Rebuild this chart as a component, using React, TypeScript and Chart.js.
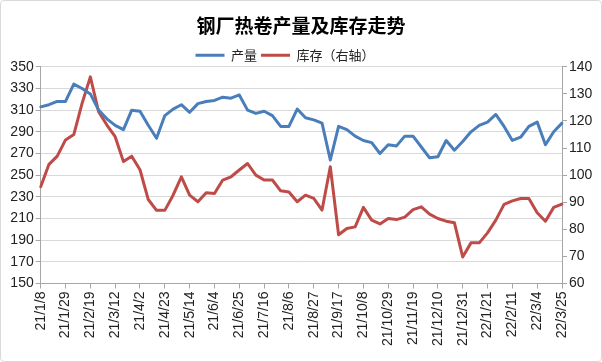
import React, { useEffect, useRef } from "react";
import { Chart, registerables } from "chart.js";

Chart.register(...registerables);

const labels = [
  "21/1/8", "21/1/15", "21/1/22", "21/1/29", "21/2/5", "21/2/12", "21/2/19", "21/2/26",
  "21/3/5", "21/3/12", "21/3/19", "21/3/26", "21/4/2", "21/4/9", "21/4/16", "21/4/23",
  "21/4/30", "21/5/7", "21/5/14", "21/5/21", "21/5/28", "21/6/4", "21/6/11", "21/6/18",
  "21/6/25", "21/7/2", "21/7/9", "21/7/16", "21/7/23", "21/7/30", "21/8/6", "21/8/13",
  "21/8/20", "21/8/27", "21/9/3", "21/9/10", "21/9/17", "21/9/24", "21/10/1", "21/10/8",
  "21/10/15", "21/10/22", "21/10/29", "21/11/5", "21/11/12", "21/11/19", "21/11/26", "21/12/3",
  "21/12/10", "21/12/17", "21/12/24", "21/12/31", "22/1/7", "22/1/14", "22/1/21", "22/1/28",
  "22/2/4", "22/2/11", "22/2/18", "22/2/25", "22/3/4", "22/3/11", "22/3/18", "22/3/25",
];

// 产量 (left axis)
const output = [
  313, 315, 318, 318, 334, 330, 325, 310,
  302, 296, 292, 310, 309, 296, 284, 305,
  311, 315, 308, 316, 318, 319, 322, 321,
  324, 310, 307, 309, 305, 295, 295, 311,
  303, 301, 298, 264, 295, 292, 286, 282,
  280, 270, 278, 277, 286, 286, 276, 266,
  267, 282, 273, 281, 290, 296, 299, 306,
  295, 282, 285, 295, 299, 278, 290, 298,
];

// 库存 (right axis)
const inventory = [
  95.7, 104, 107, 113, 115, 126.5, 136.3, 123.4,
  118.5, 114.2, 105, 107, 102, 91, 87, 87,
  92.6, 99.4, 92.6, 90.2, 93.5, 93.2, 98.2, 99.4,
  101.9, 104.3, 100, 98.2, 98.2, 94.2, 93.8, 90.2,
  92.6, 91.4, 87.1, 103.1, 78, 80.3, 80.9, 88.1,
  83.4, 82, 84, 83.6, 84.5, 87.3, 88.3, 85.6,
  84, 83, 82.4, 69.8, 75, 75, 78.7, 83.4,
  89.2, 90.5, 91.4, 91.4, 86.1, 83, 88.1, 89.3,
];

const seriesNames = ["产量", "库存（右轴）"];
const titleText = "钢厂热卷产量及库存走势";

const BLUE = "#4A7EBB";
const RED = "#BE4B48";
const TICK_FONT = { family: "'Liberation Sans', Arial, sans-serif", size: 14 };

const legendTweak = {
  id: "legendTweak",
  beforeLayout(chart: any) {
    const lg = chart.legend;
    if (lg && !lg._tweakPatched) {
      const orig = lg.fit.bind(lg);
      lg.fit = function () {
        orig();
        this.height = Math.max(0, this.height - 5);
      };
      lg._tweakPatched = true;
    }
  },
  afterLayout(chart: any) {
    const lg = chart.legend;
    if (lg) {
      lg.left -= 16;
      lg.right -= 16;
    }
  },
};

export default function App() {
  const ref = useRef<HTMLCanvasElement | null>(null);

  useEffect(() => {
    if (!ref.current) return;
    const chart = new Chart(ref.current, {
      type: "line",
      data: {
        labels,
        datasets: [
          {
            label: seriesNames[0],
            data: output,
            borderColor: BLUE,
            backgroundColor: BLUE,
            borderWidth: 3,
            pointRadius: 0,
            borderJoinStyle: "round",
            borderCapStyle: "round",
            yAxisID: "y",
            tension: 0,
          },
          {
            label: seriesNames[1],
            data: inventory,
            borderColor: RED,
            backgroundColor: RED,
            borderWidth: 3,
            pointRadius: 0,
            borderJoinStyle: "round",
            borderCapStyle: "round",
            yAxisID: "y1",
            tension: 0,
          },
        ],
      },
      plugins: [legendTweak],
      options: {
        responsive: false,
        animation: false,
        layout: { padding: 0 },
        plugins: {
          title: {
            display: true,
            text: titleText,
            color: "#000",
            font: { family: "'Noto Sans CJK SC', sans-serif", size: 19, weight: "bold", lineHeight: 1.2 },
            padding: { top: 13, bottom: 8 },
          },
          legend: {
            display: true,
            position: "top",
            labels: {
              usePointStyle: true,
              pointStyle: "line",
              pointStyleWidth: 29,
              padding: 4,
              color: "#222",
              font: { family: "'Noto Sans CJK SC', sans-serif", size: 13 },
            },
          },
          tooltip: { enabled: false },
        },
        scales: {
          x: {
            offset: false,
            afterFit: (s: any) => {
              s.height = 77.5;
            },
            grid: {
              drawOnChartArea: false,
              drawTicks: true,
              tickLength: 5,
              color: (c: any) => (c.index % 3 === 0 ? "#A6A6A6" : "rgba(0,0,0,0)"),
            },
            border: { color: "#A6A6A6", width: 1 },
            ticks: {
              autoSkip: false,
              minRotation: 90,
              maxRotation: 90,
              padding: 3,
              color: "#222",
              font: TICK_FONT,
              callback: (_v: any, i: number) => (i % 3 === 0 ? labels[i] : ""),
            },
          },
          y: {
            position: "left",
            min: 150,
            max: 350,
            afterFit: (s: any) => {
              s.width = 39.7;
            },
            grid: { color: "#D9D9D9", tickLength: 5, tickColor: "#A6A6A6" },
            border: { color: "#A6A6A6", width: 1 },
            ticks: { stepSize: 20, padding: 2, color: "#222", font: TICK_FONT },
          },
          y1: {
            position: "right",
            min: 60,
            max: 140,
            afterFit: (s: any) => {
              s.width = 39;
            },
            grid: { drawOnChartArea: false, tickLength: 5, color: "#A6A6A6" },
            border: { color: "#A6A6A6", width: 1 },
            ticks: { stepSize: 10, padding: 2, color: "#222", font: TICK_FONT },
          },
        },
      } as any,
    });
    return () => chart.destroy();
  }, []);

  return (
    <div
      style={{
        position: "fixed",
        left: 0,
        top: 0,
        width: 602,
        height: 362,
        boxSizing: "border-box",
        border: "1px solid #D9D9D9",
        borderRadius: 4,
        background: "#fff",
        overflow: "hidden",
      }}
    >
      <canvas ref={ref} width={600} height={360} style={{ display: "block" }} />
    </div>
  );
}
